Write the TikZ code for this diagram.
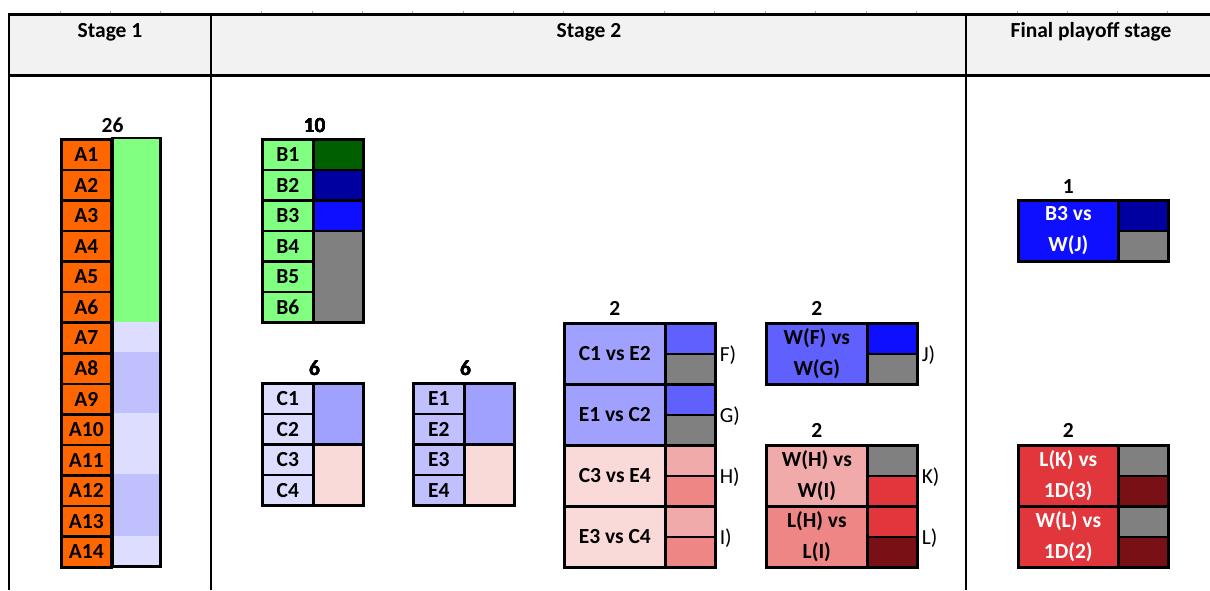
\documentclass[tikz,border=0pt]{standalone}
\usepackage{fontspec}
\setmainfont{Carlito}
\definecolor{headgray}{HTML}{F2F2F2}
\definecolor{orangeA}{HTML}{FF6600}
\definecolor{greenL}{HTML}{80FF80}
\definecolor{lavL}{HTML}{DDDDFF}
\definecolor{lavM}{HTML}{C0C0FF}
\definecolor{periw}{HTML}{A0A0FF}
\definecolor{blueM}{HTML}{6060FF}
\definecolor{blueB}{HTML}{0F0FFF}
\definecolor{navy}{HTML}{0000A0}
\definecolor{dgreen}{HTML}{006000}
\definecolor{grayc}{HTML}{808080}
\definecolor{pinkL}{HTML}{FAD9D9}
\definecolor{pinkM}{HTML}{F0AAAA}
\definecolor{pinkD}{HTML}{EE8686}
\definecolor{redc}{HTML}{E0363C}
\definecolor{maroon}{HTML}{781015}
\newcommand\cellfont{\fontsize{21.5}{30.5}\selectfont\bfseries}
\newcommand\tagfont{\fontsize{21.5}{26}\selectfont}
% one bordered cell: name, x, y (top left), width, height, fill, text
\newcommand\bx[8][]{\node[cell,fill=#7,minimum width=#5pt,minimum height=#6pt,#1] (#2) at ({#3},{#4}) {#8};}
% one fill without border
\newcommand\fx[6]{\node[fillonly,fill=#6,minimum width=#4pt,minimum height=#5pt] (#1) at ({#2},{#3}) {};}
\begin{document}
\begin{tikzpicture}[x=1pt,y=-1pt,
  cell/.style={draw=black,line width=2.6pt,inner sep=0pt,anchor=north west,font=\cellfont,align=center},
  fillonly/.style={draw=none,inner sep=0pt,anchor=north west},
  count/.style={font=\cellfont,anchor=base},
  head/.style={font=\cellfont,anchor=base},
  tag/.style={font=\tagfont,anchor=west,inner sep=0pt},
  frame/.style={line width=2.6pt}]
\useasboundingbox (0,0) rectangle (1210,590);

% ---- table header and column rules
\fill[headgray] (9,14) rectangle (1210,75);
\foreach \t in {60,110,160,261,312,362,412,463,513,563,664,714,765,815,866,916,1017,1067,1117,1167}
  \draw[gray!70,line width=0.8pt] (\t,10.5) -- (\t,12.5);
\draw[line width=3pt] (7.75,14) -- (1210,14);
\draw[line width=3.5pt] (7.75,75.5) -- (1210,75.5);
\draw[line width=2.5pt] (9,14) -- (9,590);
\draw[line width=2pt] (211,14) -- (211,590);
\draw[line width=2pt] (966,14) -- (966,590);
\node[head] (h1) at (110,37.5) {Stage 1};
\node[head] (h2) at (589,37.5) {Stage 2};
\node[head] (h3) at (1091,37.5) {Final playoff stage};

% ---- Stage 1: A1..A14
\fx{ag}{110}{138}{50}{183.4}{greenL}
\fx{ar7}{110}{321.4}{50}{30.57}{lavL}
\fx{ar8}{110}{352}{50}{61.1}{lavM}
\fx{ar10}{110}{413.1}{50}{61.1}{lavL}
\fx{ar12}{110}{474.2}{50}{61.1}{lavM}
\fx{ar14}{110}{535.3}{50}{30.7}{lavL}
\foreach \i in {1,...,14}
  \bx{a\i}{60}{138+(\i-1)*30.57}{50}{30.57}{orangeA}{A\i}
\draw[frame] (a1.north east) rectangle (ar14.south east);
\node[count] (n26) at (a1.north east) [yshift=6pt] {26};

% ---- Stage 2: B1..B6
\foreach \i in {1,...,6}
  \bx{b\i}{261}{138+(\i-1)*30.57}{51}{30.57}{greenL}{B\i}
\bx{br1}{312}{138}{50}{30.57}{dgreen}{}
\bx{br2}{312}{168.57}{50}{30.57}{navy}{}
\bx{br3}{312}{199.14}{50}{30.57}{blueB}{}
\bx{br4}{312}{229.71}{50}{91.71}{grayc}{}
\node[count] (n10) at (b1.north east) [yshift=6pt] {10};

% ---- C1..C4
\foreach \i in {1,...,4}
  \bx{c\i}{261}{382+(\i-1)*30.57}{51}{30.57}{lavL}{C\i}
\bx{cr1}{312}{382}{50}{61.14}{periw}{}
\bx{cr3}{312}{443.14}{50}{61.14}{pinkL}{}
\node[count] (n6c) at (c1.north east) [yshift=7pt] {6};

% ---- E1..E4
\foreach \i in {1,...,4}
  \bx{e\i}{412}{382+(\i-1)*30.57}{51}{30.57}{lavM}{E\i}
\bx{er1}{463}{382}{50}{61.14}{periw}{}
\bx{er3}{463}{443.14}{50}{61.14}{pinkL}{}
\node[count] (n6e) at (e1.north east) [yshift=7pt] {6};

% ---- matches F, G, H, I
\bx{mf}{563}{322}{101}{61}{periw}{C1 vs E2}
\bx{mg}{563}{383}{101}{61}{periw}{E1 vs C2}
\bx{mh}{563}{444}{101}{61}{pinkL}{C3 vs E4}
\bx{mi}{563}{505}{101}{61}{pinkL}{E3 vs C4}
\bx{f1}{664}{322}{50}{30.5}{blueM}{}
\bx{f2}{664}{352.5}{50}{30.5}{grayc}{}
\bx{g1}{664}{383}{50}{30.5}{blueM}{}
\bx{g2}{664}{413.5}{50}{30.5}{grayc}{}
\bx{h1}{664}{444}{50}{30.5}{pinkM}{}
\bx{h2}{664}{474.5}{50}{30.5}{pinkD}{}
\bx{i1}{664}{505}{50}{30.5}{pinkM}{}
\bx{i2}{664}{535.5}{50}{30.5}{pinkD}{}
\node[count] (n2a) at (mf.north) [yshift=7pt] {2};
\node[tag] (tf) at (f1.south east) [xshift=3pt] {F)};
\node[tag] (tg) at (g1.south east) [xshift=3pt] {G)};
\node[tag] (th) at (h1.south east) [xshift=3pt] {H)};
\node[tag] (ti) at (i1.south east) [xshift=3pt] {I)};

% ---- match J
\bx{mj}{765}{322}{101}{61}{blueM}{W(F) vs\\W(G)}
\bx{j1}{866}{322}{50}{30.5}{blueB}{}
\bx{j2}{866}{352.5}{50}{30.5}{grayc}{}
\node[count] (n2b) at (mj.north) [yshift=7pt] {2};
\node[tag] (tj) at (j1.south east) [xshift=3pt] {J)};

% ---- matches K, L
\bx{mk}{765}{444}{101}{61}{pinkM}{W(H) vs\\W(I)}
\bx{ml}{765}{505}{101}{61}{pinkD}{L(H) vs\\L(I)}
\bx{k1}{866}{444}{50}{30.5}{grayc}{}
\bx{k2}{866}{474.5}{50}{30.5}{redc}{}
\bx{l1}{866}{505}{50}{30.5}{redc}{}
\bx{l2}{866}{535.5}{50}{30.5}{maroon}{}
\node[count] (n2c) at (mk.north) [yshift=7pt] {2};
\node[tag] (tk) at (k1.south east) [xshift=3pt] {K)};
\node[tag] (tl) at (l1.south east) [xshift=3pt] {L)};

% ---- Final playoff stage
\bx[text=white]{fa}{1017}{199}{100}{61}{blueB}{B3 vs\\W(J)}
\bx{fa1}{1117}{199}{50}{30.5}{navy}{}
\bx{fa2}{1117}{229.5}{50}{30.5}{grayc}{}
\node[count] (n1) at (fa.north) [yshift=6pt] {1};

\bx[text=white]{fb}{1017}{444}{100}{61}{redc}{L(K) vs\\1D(3)}
\bx[text=white]{fc}{1017}{505}{100}{61}{redc}{W(L) vs\\1D(2)}
\bx{fb1}{1117}{444}{50}{30.5}{grayc}{}
\bx{fb2}{1117}{474.5}{50}{30.5}{maroon}{}
\bx{fc1}{1117}{505}{50}{30.5}{grayc}{}
\bx{fc2}{1117}{535.5}{50}{30.5}{maroon}{}
\node[count] (n2d) at (fb.north) [yshift=7pt] {2};
\end{tikzpicture}
\end{document}
